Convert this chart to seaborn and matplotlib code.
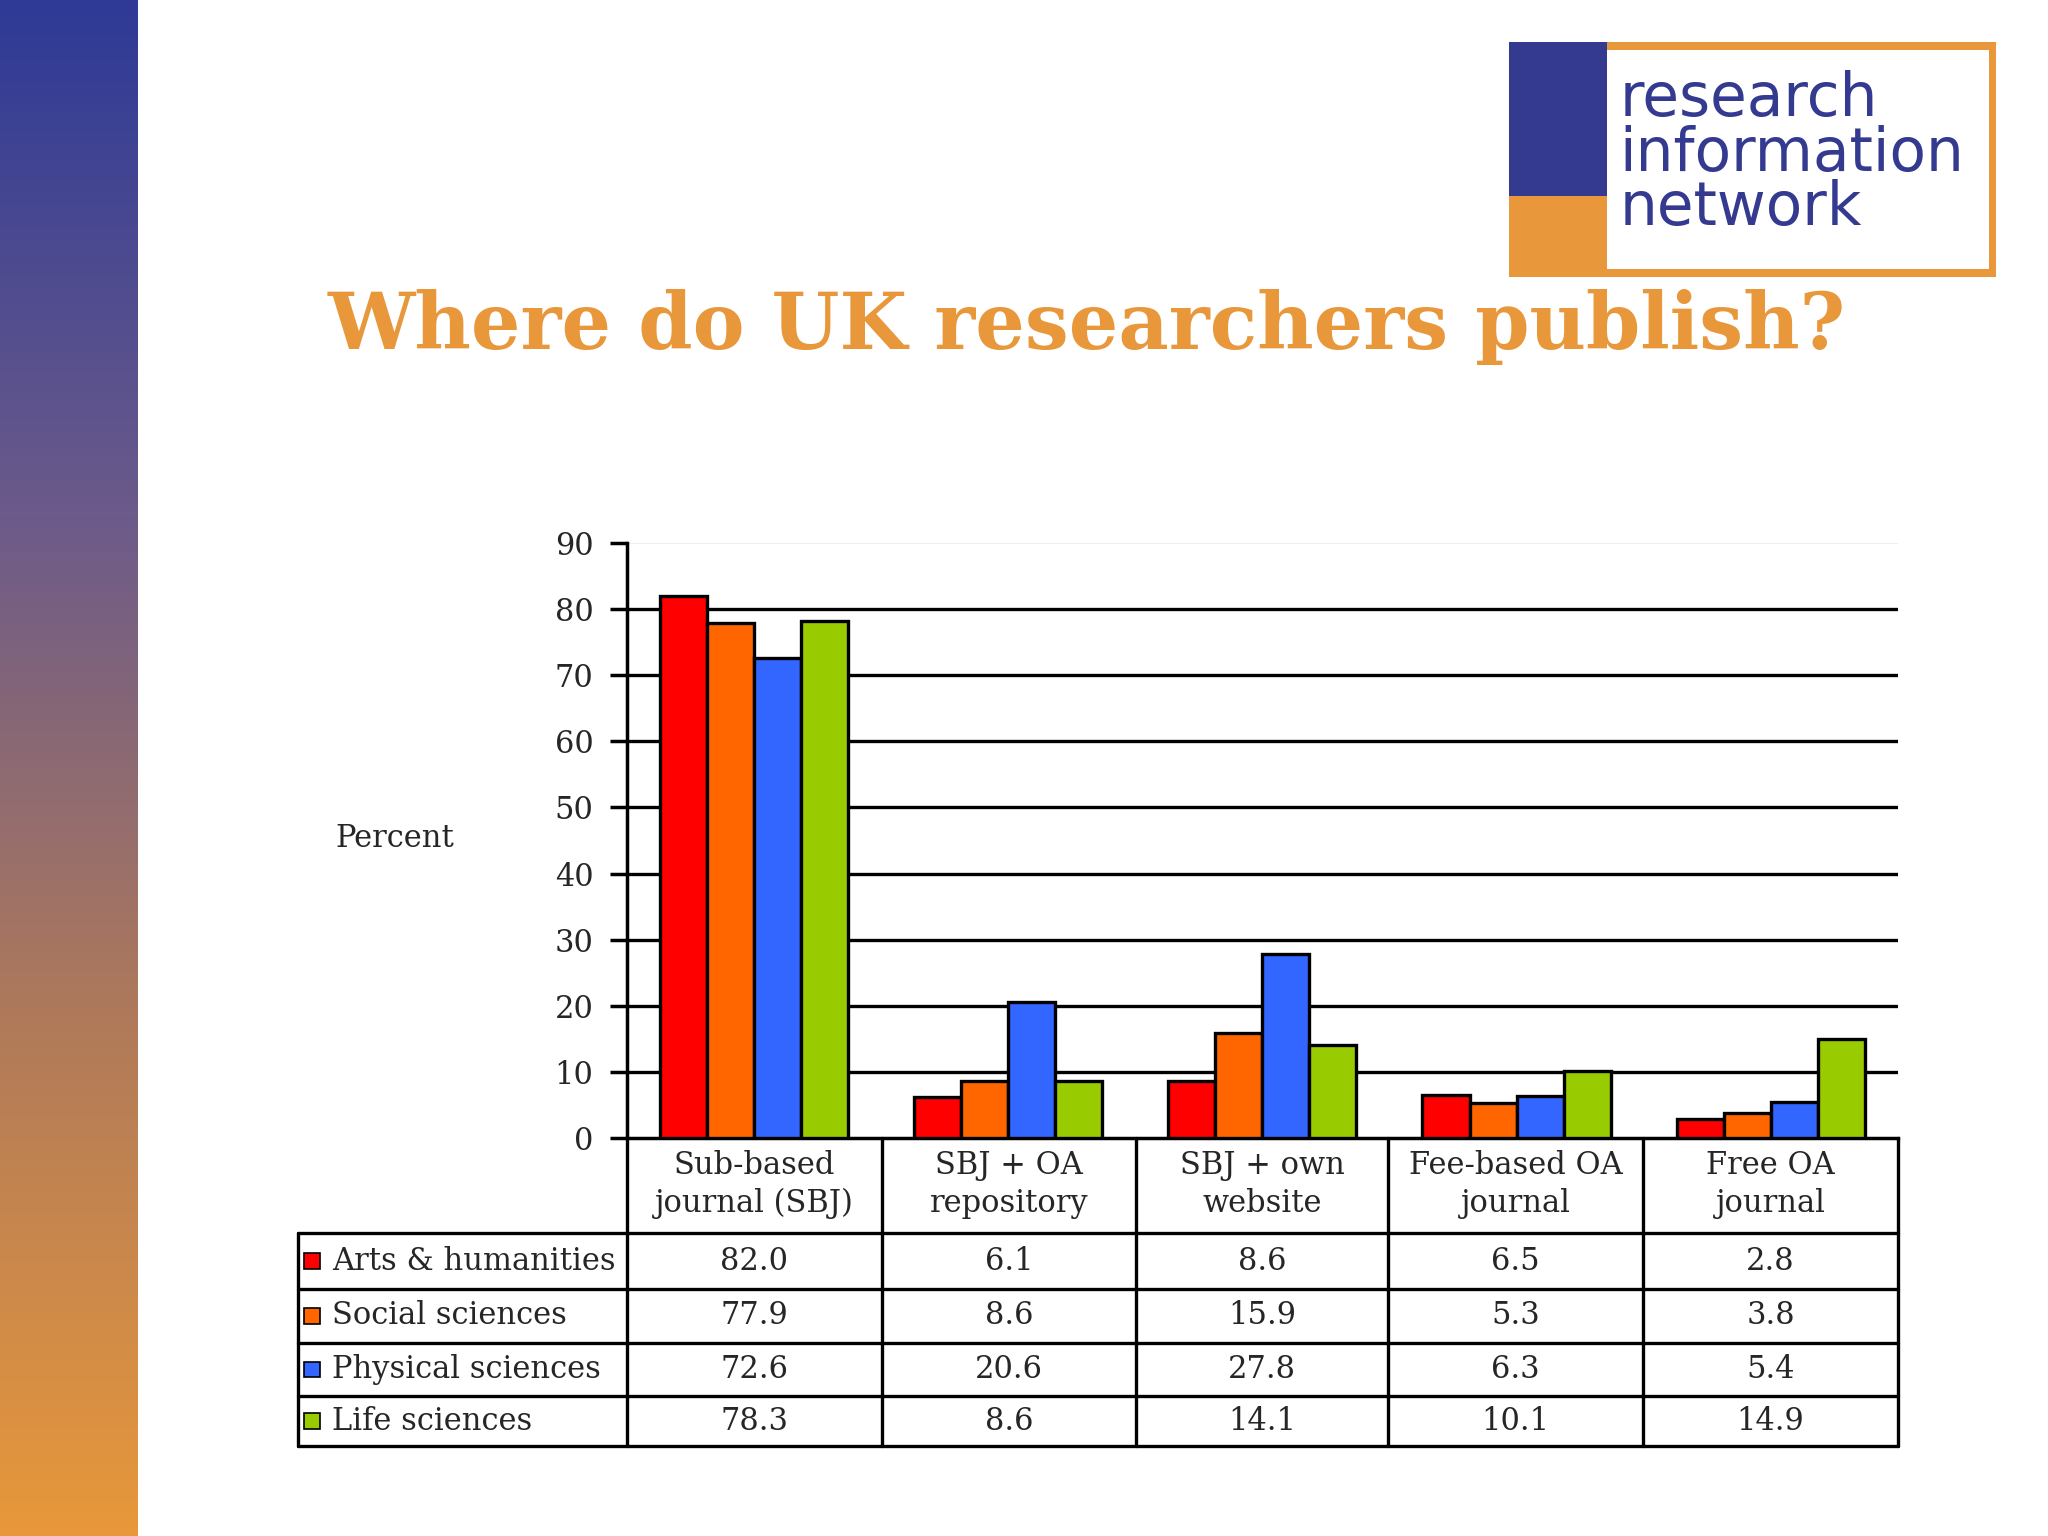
import numpy as np
import pandas as pd
import matplotlib
matplotlib.use("Agg")
import matplotlib.pyplot as plt
import seaborn as sns
from matplotlib.lines import Line2D
from matplotlib.patches import Rectangle
from matplotlib.colors import LinearSegmentedColormap

categories = ["Sub-based\njournal (SBJ)", "SBJ + OA\nrepository", "SBJ + own\nwebsite",
              "Fee-based OA\njournal", "Free OA\njournal"]
series = ["Arts & humanities", "Social sciences", "Physical sciences", "Life sciences"]
arts = [82.0, 6.1, 8.6, 6.5, 2.8]
social = [77.9, 8.6, 15.9, 5.3, 3.8]
physical = [72.6, 20.6, 27.8, 6.3, 5.4]
life = [78.3, 8.6, 14.1, 10.1, 14.9]
colors = ["#FF0000", "#FF6600", "#3366FF", "#99CC00"]

W, H = 1568, 1176
def fx(x): return x / W
def fy(y): return 1 - y / H

sns.set_theme(style="white")
plt.rcParams['font.family'] = ['DejaVu Serif']
fig = plt.figure(figsize=(10.24, 7.68), dpi=200)
fig.patch.set_facecolor("white")

gax = fig.add_axes([0, 0, fx(105), 1])
grad = np.linspace(0, 1, 256).reshape(-1, 1)
cm = LinearSegmentedColormap.from_list("g", ["#2E3A96", "#6B5A8A", "#B07A5A", "#E8983A"])
gax.imshow(grad, aspect="auto", cmap=cm, extent=[0, 1, 0, 1], origin="upper")
gax.axis("off")

fig.patches.append(Rectangle((fx(1155), fy(212)), fx(373), fy(32) - fy(212),
                             transform=fig.transFigure, facecolor="#E8983A", edgecolor="none"))
fig.patches.append(Rectangle((fx(1155), fy(150)), fx(75), fy(32) - fy(150),
                             transform=fig.transFigure, facecolor="#333A8F", edgecolor="none"))
fig.patches.append(Rectangle((fx(1230), fy(206)), fx(293), fy(38) - fy(206),
                             transform=fig.transFigure, facecolor="white", edgecolor="none"))
fig.text(fx(1240), fy(118), "research\ninformation\nnetwork", family="DejaVu Sans",
         color="#333A8F", fontsize=21.5, va="center", ha="left", linespacing=0.9)

fig.text(fx(832), fy(250), "Where do UK researchers publish?", color="#E8983A",
         fontsize=28, ha="center", va="center", fontweight="bold")

ax = fig.add_axes([fx(480), fy(871), fx(1453) - fx(480), fy(416) - fy(871)])
df = pd.DataFrame({"cat": np.tile(categories, 4),
                   "series": np.repeat(series, 5),
                   "val": arts + social + physical + life})
sns.barplot(data=df, x="cat", y="val", hue="series", palette=colors, width=0.74,
            saturation=1, edgecolor="black", linewidth=1.2, ax=ax, legend=False, zorder=3)
ax.set_ylim(0, 90)
ax.set_xlim(-0.5, 4.5)
ax.set_yticks(range(0, 91, 10))
ax.set_yticklabels([str(v) for v in range(0, 91, 10)], fontsize=11)
for v in range(10, 90, 10):
    ax.axhline(v, color="black", lw=1.2, zorder=1)
ax.axhline(90, color="#eeeeee", lw=0.8, zorder=1)
for s in ["top", "right"]:
    ax.spines[s].set_visible(False)
ax.spines["left"].set_color("black")
ax.spines["bottom"].set_color("black")
ax.tick_params(axis="y", left=True, length=6, color="black", pad=6)
ax.set_xticks([])
ax.set_xlabel("")
ax.set_ylabel("")
fig.text(fx(302), fy(642), "Percent", fontsize=11, ha="center", va="center")

lw = 1.2
def hline(y, x0, x1):
    fig.add_artist(Line2D([fx(x0), fx(x1)], [fy(y), fy(y)], color="black", lw=lw))
def vline(x, y0, y1):
    fig.add_artist(Line2D([fx(x), fx(x)], [fy(y0), fy(y1)], color="black", lw=lw))
colx = [480, 675, 870, 1063, 1258, 1453]
rowy = [944, 987, 1028, 1069, 1107]
for x in colx:
    vline(x, 871, 1107)
vline(228, 944, 1107)
for y in rowy:
    hline(y, 228, 1453)
for i, c in enumerate(categories):
    xc = (colx[i] + colx[i + 1]) / 2
    fig.text(fx(xc), fy(907), c, ha="center", va="center", fontsize=11, linespacing=1.3)
data = [arts, social, physical, life]
for r, (name, vals, col) in enumerate(zip(series, data, colors)):
    yc = (rowy[r] + rowy[r + 1]) / 2
    fig.patches.append(Rectangle((fx(233), fy(yc + 6)), fx(12), fy(yc - 6) - fy(yc + 6),
                                 transform=fig.transFigure, facecolor=col, edgecolor="black", lw=0.6))
    fig.text(fx(254), fy(yc), name, ha="left", va="center", fontsize=11)
    for i, v in enumerate(vals):
        xc = (colx[i] + colx[i + 1]) / 2
        fig.text(fx(xc), fy(yc), f"{v:.1f}", ha="center", va="center", fontsize=11)

fig.savefig("out.png", dpi=200, facecolor="white")
